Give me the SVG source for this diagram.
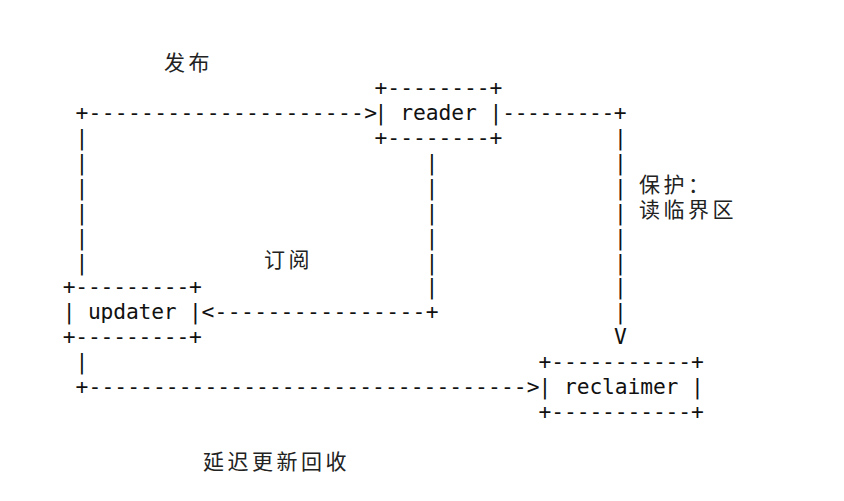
<svg xmlns="http://www.w3.org/2000/svg" width="844" height="501" viewBox="0 0 844 501">
<style>
.a{font-family:"DejaVu Sans Mono","Liberation Mono",monospace;font-size:21.3px;fill:#111;white-space:pre}
.m{text-anchor:middle}
.c{font-family:"Noto Sans CJK SC","Noto Sans",sans-serif;font-size:21px;letter-spacing:3.5px;fill:#222}
</style>
<rect width="844" height="501" fill="#fff"/>
<g id="reader">
<text class="a" x="374.6" y="95" textLength="127.8" lengthAdjust="spacing">+--------+</text>
<text class="a" x="374.6" y="119.9" textLength="127.8" lengthAdjust="spacing">| reader |</text>
<text class="a" x="374.6" y="144.8" textLength="127.8" lengthAdjust="spacing">+--------+</text>
</g>
<g id="updater">
<text class="a" x="62.7" y="294.2" textLength="139.2" lengthAdjust="spacing">+---------+</text>
<text class="a" x="62.7" y="319.1" textLength="139.2" lengthAdjust="spacing">| updater |</text>
<text class="a" x="62.7" y="344" textLength="139.2" lengthAdjust="spacing">+---------+</text>
</g>
<g id="reclaimer">
<text class="a" x="538.6" y="368.9" textLength="165.2" lengthAdjust="spacing">+-----------+</text>
<text class="a" x="538.6" y="393.8" textLength="165.2" lengthAdjust="spacing">| reclaimer |</text>
<text class="a" x="538.6" y="418.7" textLength="165.2" lengthAdjust="spacing">+-----------+</text>
</g>
<g id="connectors">
<text class="a" x="75.4" y="119.9" textLength="301.6" lengthAdjust="spacing">+---------------------&gt;</text>
<text class="a" x="502.3" y="119.9" textLength="124.4" lengthAdjust="spacing">---------+</text>
<text class="a m" x="82" y="145">|<tspan x="82" dy="24.9">|</tspan><tspan x="82" dy="24.9">|</tspan><tspan x="82" dy="24.9">|</tspan><tspan x="82" dy="24.9">|</tspan><tspan x="82" dy="24.9">|</tspan></text>
<text class="a m" x="82" y="369.1">|</text>
<text class="a m" x="432" y="169.9">|<tspan x="432" dy="24.9">|</tspan><tspan x="432" dy="24.9">|</tspan><tspan x="432" dy="24.9">|</tspan><tspan x="432" dy="24.9">|</tspan><tspan x="432" dy="24.9">|</tspan></text>
<text class="a m" x="620.5" y="145">|<tspan x="620.5" dy="24.9">|</tspan><tspan x="620.5" dy="24.9">|</tspan><tspan x="620.5" dy="24.9">|</tspan><tspan x="620.5" dy="24.9">|</tspan><tspan x="620.5" dy="24.9">|</tspan><tspan x="620.5" dy="24.9">|</tspan><tspan x="620.5" dy="24.9">|</tspan></text>
<text class="a m" x="620.5" y="344">V</text>
<text class="a" x="201.4" y="319.1" textLength="237.2" lengthAdjust="spacing">&lt;----------------+</text>
<text class="a" x="75.6" y="393.8" textLength="463.9" lengthAdjust="spacing">+----------------------------------&gt;</text>
</g>
<g id="labels">
<text class="c" x="164" y="70">发布</text>
<text class="c" x="264" y="267">订阅</text>
<text class="c" x="639" y="192">保护：<tspan x="639" dy="25">读临界区</tspan></text>
<text class="c" x="203" y="469">延迟更新回收</text>
</g>
</svg>
